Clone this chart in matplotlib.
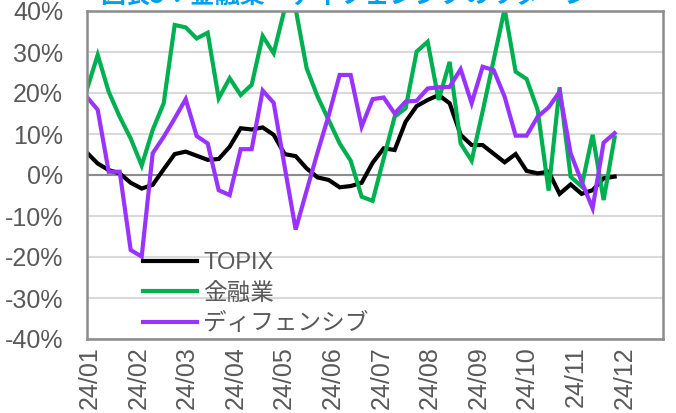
import numpy as np
import matplotlib
matplotlib.use("Agg")
import matplotlib.pyplot as plt

plt.rcParams['font.family'] = ['Liberation Sans', 'Noto Sans CJK JP']

# weekly returns (%), Jan-Dec 2024
topix = [5.5, 2.8, 1.2, 0.4, -1.9, -3.3, -2.4, 1.4, 5.1, 5.7, 4.7, 3.7, 3.9,
         6.9, 11.4, 11.1, 11.6, 9.8, 5.1, 4.6, 1.6, -0.6, -1.2, -3.0, -2.7,
         -1.9, 3.0, 6.5, 6.1, 13.0, 16.8, 18.3, 19.5, 17.5, 9.8, 7.3, 7.3,
         5.2, 3.1, 5.1, 1.0, 0.4, 0.8, -4.6, -2.3, -4.6, -3.7, -0.8, -0.4]
finance = [20.7, 29.3, 20.3, 14.2, 8.9, 2.3, 11.0, 17.5, 36.6, 36.0, 33.3, 34.7, 18.7,
           23.6, 19.5, 22.0, 33.9, 29.7, 40.5, 40.5, 26.0, 19.1, 13.4, 7.7, 3.5,
           -5.3, -6.3, 4.0, 14.2, 16.3, 30.1, 32.5, 18.3, 27.6, 7.7, 3.5, 15.5,
           28.0, 40.5, 25.2, 23.4, 15.9, -3.8, 21.4, -0.4, -2.8, 9.8, -6.1, 9.2]
defensive = [19.1, 15.9, 0.8, 0.8, -18.3, -19.9, 5.3, 9.3, 13.8, 18.5, 9.5, 7.7, -3.7,
             -4.9, 6.3, 6.3, 20.6, 17.6, 2.0, -13.3, -3.8, 5.6, 14.5, 24.4, 24.4,
             11.8, 18.5, 18.9, 15.0, 17.9, 18.1, 21.1, 21.4, 21.5, 25.8, 17.5, 26.4,
             25.6, 19.1, 9.6, 9.6, 14.2, 16.5, 20.3, 5.3, -1.6, -8.1, 7.9, 10.2]
month_labels = ['24/01', '24/02', '24/03', '24/04', '24/05', '24/06',
                '24/07', '24/08', '24/09', '24/10', '24/11', '24/12']
series_names = ['TOPIX', '金融業', 'ディフェンシブ']
colors = ['#000000', '#00B050', '#9933FF']

gray = '#595959'
fig = plt.figure(figsize=(6.76, 4.13), dpi=100)
ax = fig.add_axes([86.7 / 676, 1 - 339 / 413, (663 - 86.7) / 676, (339 - 11) / 413])

x = np.arange(len(topix))
for vals, name, c in zip([topix, finance, defensive], series_names, colors):
    ax.plot(x, vals, color=c, lw=3, label=name, solid_joinstyle='miter')

ax.set_ylim(-40, 40)
ax.set_xlim(0, 52.4)
yt = np.arange(-40, 41, 10)
ax.set_yticks(yt)
ax.set_yticklabels([f"{v}%" for v in yt])
# month ticks, ~4.42 weeks apart
ax.set_xticks(0.27 + np.arange(len(month_labels)) * 4.42)
ax.set_xticklabels(month_labels, rotation=90)
ax.tick_params(axis='both', length=0, labelsize=18, labelcolor=gray)
ax.tick_params(axis='y', pad=17)
ax.tick_params(axis='x', pad=5)
ax.grid(axis='y', color='#D9D9D9', lw=1.5)
ax.axhline(0, color='#8C8C8C', lw=1.5, zorder=1.5)
ax.set_axisbelow(True)
for s in ax.spines.values():
    s.set_color('#8C8C8C')
    s.set_linewidth(1.8)

ax.legend(loc='upper left', bbox_to_anchor=(143 / 676, 1 - 252 / 413),
          bbox_transform=fig.transFigure, frameon=False, fontsize=17,
          handlelength=2.3, handletextpad=0.25, labelspacing=0.36,
          borderpad=0, borderaxespad=0, labelcolor=gray)

fig.text(100 / 676, 1 - 3 / 413, '図表5：金融業・ディフェンシブのリターン',
         color='#00A0E9', fontsize=18, fontweight='bold', va='baseline', ha='left',
         family=['Noto Sans CJK JP'])

fig.savefig('out.png', dpi=100)
